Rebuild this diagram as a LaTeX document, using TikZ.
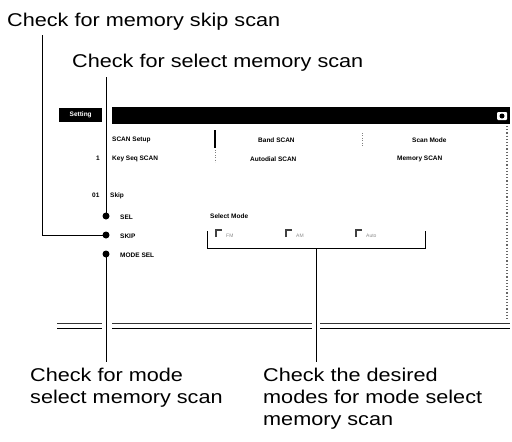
\documentclass[tikz,border=0pt]{standalone}
\usepackage{fontspec}
\setmainfont{Liberation Sans}
\newfontfamily\labfont[FakeStretch=1.17]{Liberation Sans}
\begin{document}
\begin{tikzpicture}[x=1pt,y=-1pt,
  lab/.style={font=\labfont\fontsize{18.5}{22}\selectfont, inner sep=0, anchor=base west},
  mlab/.style={font=\labfont\fontsize{18.5}{22}\selectfont, inner sep=0, anchor=north west, align=left},
  ui/.style={font=\bfseries\fontsize{6.5}{8}\selectfont, inner sep=0, anchor=base west},
  faint/.style={font=\fontsize{5}{6}\selectfont, text=black!45, inner sep=0, anchor=base west},
  dot/.style={circle, fill=black, inner sep=0, minimum size=7pt},
  conn/.style={line width=0.8pt},
  cbox/.style={line width=1.6pt, black!75}]
\useasboundingbox (0,0) rectangle (512,442);

% ---- labels
\node[lab] (lblSkip) at (7,26) {Check for memory skip scan};
\node[lab] (lblSel) at (72,67) {Check for select memory scan};
\node[mlab] (lblMode) at (30,368) {Check for mode\\select memory scan};
\node[mlab] (lblModes) at (263,368) {Check the desired\\modes for mode select\\memory scan};

% ---- dialog window
\node[fill=black, minimum width=43pt, minimum height=14pt, inner sep=0, anchor=north west,
      text=white, font=\bfseries\fontsize{6.5}{8}\selectfont] (tab) at (59,108) {Setting};
\node[fill=black, minimum width=398pt, minimum height=17pt, inner sep=0, anchor=north west] (bar) at (112,107) {};
\node[fill=white, rounded corners=1pt, minimum width=10pt, minimum height=8pt, inner sep=0] (icon) at (502,116) {};
\node[fill=black, circle, minimum size=5pt, inner sep=0] (iconin) at (502,116) {};
\draw[black!60, dotted, line width=1.2pt] (507,126) -- (507,320);

\node[ui] (t1) at (112,141) {SCAN Setup};
\node[ui] (t2) at (96,160) {1};
\node[ui] (t3) at (112,160) {Key Seq SCAN};
\node[ui] (t4) at (258,142) {Band SCAN};
\node[ui] (t5) at (250,161) {Autodial SCAN};
\node[ui] (t6) at (412,142) {Scan Mode};
\node[ui] (t7) at (397,160) {Memory SCAN};
\draw[line width=1.2pt] (215,130) -- (215,148);
\draw[black!50, dotted] (215,150) -- (215,162);
\draw[black!50, dotted] (362,133) -- (362,146);
\node[ui] (t8) at (92,197) {01};
\node[ui] (t9) at (110,197) {Skip};
\node[ui] (t10) at (120,219) {SEL};
\node[ui] (t11) at (120,238) {SKIP};
\node[ui] (t12) at (120,257) {MODE SEL};
\node[ui] (t13) at (210,218) {Select Mode};

% group box
\draw[line width=0.9pt] (207,231) -- (207,248) -- (425,248) -- (425,231);
\coordinate (gb) at (316,248);
% checkboxes
\draw[cbox] (216,237) -- (216,230) -- (222,230);
\draw[cbox] (286,237) -- (286,230) -- (292,230);
\draw[cbox] (356,237) -- (356,230) -- (362,230);
\node[faint] (c1) at (226,237) {FM};
\node[faint] (c2) at (296,237) {AM};
\node[faint] (c3) at (366,237) {Auto};

% bottom double line
\foreach \a/\b in {57/102, 112/312, 320/510} {
  \draw[line width=0.5pt, black!80] (\a,323) -- (\b,323);
  \draw[line width=1.6pt] (\a,328.5) -- (\b,328.5);
}

% ---- dots
\node[dot] (selDot) at (106,216) {};
\node[dot] (skipDot) at (106,235) {};
\node[dot] (modeDot) at (106,254) {};

% ---- connectors
\coordinate (p1) at (42,35);
\coordinate (p2) at (106,77);
\coordinate (p3) at (106,362);
\coordinate (p4) at (316,362);
\draw[conn] (p1) |- (skipDot.center);
\draw[conn] (p2) -- (selDot.center);
\draw[conn] (modeDot.center) -- (p3);
\draw[conn] (gb) -- (p4);
\end{tikzpicture}
\end{document}
